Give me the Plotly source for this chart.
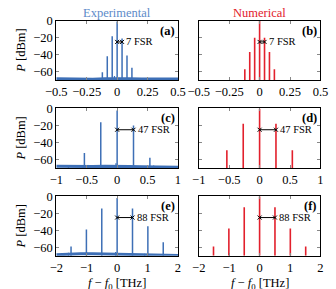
import plotly.graph_objects as go

# ---------------- data ----------------
# comb line offsets (in units of line spacing) and spacing [THz]
spacing_a = 0.0405   # 7 FSR
spacing_c = 0.269    # 47 FSR
spacing_e = 0.505    # 88 FSR

orders_a = [-3, -2, -1, 0, 1, 2, 3]
exp_a = [-60.7, -41.8, -18.2, -1.1, -21.0, -41.0, -55.5]
num_a = [-57.0, -37.0, -20.0, 0.0, -20.0, -37.0, -57.0]

orders_c = [-2, -1, 0, 1, 2]
exp_c = [-52.4, -16.3, -2.3, -20.0, -58.0]
num_c = [-49.0, -18.0, 0.0, -18.0, -49.0]

orders_e = [-3, -2, -1, 0, 1, 2, 3]
exp_e = [-59.0, -39.0, -14.4, -2.0, -14.4, -35.3, -54.0]
num_e = [-59.0, -38.0, -13.0, 0.0, -13.0, -38.0, -59.0]

# small spurious peaks in the experimental spectra
spur_x_a = [-0.022, 0.018]
spur_y_a = [-65.0, -67.0]
spur_x_c = [-0.02, 0.6, -0.8]
spur_y_c = [-64.5, -67.0, -67.5]
spur_x_e = [-0.05, -1.6, 0.9]
spur_y_e = [-65.5, -66.5, -67.5]

# experimental noise floor
floor_x_a = [-0.5, -0.4, -0.3, -0.2, -0.1, 0.0, 0.1, 0.2, 0.3, 0.4, 0.5]
floor_y_a = [-68.4, -68.7, -68.5, -68.8, -68.3, -68.0, -68.4, -68.7, -68.5, -68.9, -68.6]
floor_x_c = [-1.0, -0.8, -0.6, -0.4, -0.2, 0.0, 0.2, 0.4, 0.6, 0.8, 1.0]
floor_y_c = [-67.9, -68.2, -68.1, -68.3, -68.0, -67.8, -68.2, -68.4, -68.6, -68.9, -69.2]
floor_x_e = [-2.0, -1.6, -1.2, -0.8, -0.4, 0.0, 0.4, 0.8, 1.2, 1.6, 2.0]
floor_y_e = [-68.8, -68.0, -67.6, -67.5, -67.7, -67.9, -68.4, -68.9, -69.3, -69.5, -69.6]

xr = [[-0.5, 0.5], [-1, 1], [-2, 2]]
xticks = [[-0.5, -0.25, 0, 0.25, 0.5], [-1, -0.5, 0, 0.5, 1], [-2, -1, 0, 1, 2]]
xticktext = [["\u22120.5", "\u22120.25", "0", "0.25", "0.5"],
             ["\u22121", "\u22120.5", "0", "0.5", "1"],
             ["\u22122", "\u22121", "0", "1", "2"]]
yticks = [0, -20, -40, -60]
yticktext = ["0", "\u221220", "\u221240", "\u221260"]
fsr_labels = ["7 FSR", "47 FSR", "88 FSR"]
panel_labels = ["(a)", "(b)", "(c)", "(d)", "(e)", "(f)"]

# ---------------- style ----------------
BLUE = "#3d6fb6"
BLUE_T = "#5d8bc9"
RED = "#e2202c"
FONT = "Liberation Serif"
YMIN = -70

W, H = 336, 289
col_px = [(48, 177), (199, 328)]
row_px = [(14, 75), (104, 165), (194, 255)]

fig = go.Figure()


def stems(xs, ys, base=YMIN):
    sx, sy = [], []
    for x, y in zip(xs, ys):
        sx += [x, x, None]
        sy += [base, y, None]
    return sx, sy


rows = [
    (spacing_a, orders_a, exp_a, num_a, spur_x_a, spur_y_a, floor_x_a, floor_y_a),
    (spacing_c, orders_c, exp_c, num_c, spur_x_c, spur_y_c, floor_x_c, floor_y_c),
    (spacing_e, orders_e, exp_e, num_e, spur_x_e, spur_y_e, floor_x_e, floor_y_e),
]

layout = dict(width=W, height=H, margin=dict(l=0, r=0, t=0, b=0),
              paper_bgcolor="white", plot_bgcolor="white", showlegend=False,
              font=dict(family=FONT, size=12, color="black"))
annotations = []

for r, (sp, orders, ev, nv, spx, spy, fx, fy) in enumerate(rows):
    xs = [o * sp for o in orders]
    for c in range(2):
        idx = r * 2 + c + 1
        xa = "x" if idx == 1 else f"x{idx}"
        ya = "y" if idx == 1 else f"y{idx}"
        xkey = "xaxis" if idx == 1 else f"xaxis{idx}"
        ykey = "yaxis" if idx == 1 else f"yaxis{idx}"
        x0, x1 = col_px[c]
        y0, y1 = row_px[r]
        layout[xkey] = dict(domain=[x0 / W, x1 / W], range=xr[r], anchor=ya,
                            showline=True, linecolor="black", linewidth=1, mirror="ticks",
                            ticks="inside", ticklen=3, tickcolor="#888", showgrid=False,
                            zeroline=False, tickvals=xticks[r], ticktext=xticktext[r],
                            tickfont=dict(family=FONT, size=12.5))
        layout[ykey] = dict(domain=[1 - y1 / H, 1 - y0 / H], range=[YMIN, 0], anchor=xa,
                            showline=True, linecolor="black", linewidth=1, mirror="ticks",
                            ticks="inside", ticklen=3, tickcolor="#888", showgrid=False,
                            zeroline=False, tickvals=yticks, ticktext=yticktext,
                            showticklabels=(c == 0),
                            tickfont=dict(family=FONT, size=12.5))
        if c == 0:
            fig.add_trace(go.Scatter(x=fx, y=fy, mode="lines", xaxis=xa, yaxis=ya,
                                     line=dict(color=BLUE, width=3), hoverinfo="skip"))
            sx, sy = stems(spx, spy)
            fig.add_trace(go.Scatter(x=sx, y=sy, mode="lines", xaxis=xa, yaxis=ya,
                                     line=dict(color=BLUE, width=1.2), hoverinfo="skip"))
            sx, sy = stems(xs, ev)
            fig.add_trace(go.Scatter(x=sx, y=sy, mode="lines", xaxis=xa, yaxis=ya,
                                     line=dict(color=BLUE, width=1.5), hoverinfo="skip"))
        else:
            sx, sy = stems(xs, nv)
            fig.add_trace(go.Scatter(x=sx, y=sy, mode="lines", xaxis=xa, yaxis=ya,
                                     line=dict(color=RED, width=1.6), hoverinfo="skip"))
        # FSR arrow
        fig.add_trace(go.Scatter(x=[0, sp], y=[-25, -25], mode="lines+markers", xaxis=xa, yaxis=ya,
                                 line=dict(color="black", width=1),
                                 marker=dict(symbol="x-thin", size=4,
                                             line=dict(color="black", width=1)),
                                 hoverinfo="skip"))
        annotations.append(dict(x=sp, y=-25, xref=xa, yref=ya, text=fsr_labels[r],
                                showarrow=False, xanchor="left", yanchor="middle", xshift=2,
                                font=dict(family=FONT, size=10.5)))
        annotations.append(dict(x=1, y=1, xref=f"{xa} domain", yref=f"{ya} domain",
                                text="<b>" + panel_labels[idx - 1] + "</b>", showarrow=False,
                                xanchor="right", yanchor="top", xshift=-1, yshift=-1,
                                font=dict(family=FONT, size=12.5)))
    # y label
    annotations.append(dict(x=11 / W, y=1 - (row_px[r][0] + row_px[r][1]) / 2 / H,
                            xref="paper", yref="paper", text="<i>P</i> [dBm]", textangle=-90,
                            showarrow=False, xanchor="center", yanchor="middle",
                            font=dict(family=FONT, size=12.5)))

annotations.append(dict(x=112.5 / W, y=1 - 6 / H, xref="paper", yref="paper", text="Experimental",
                        showarrow=False, font=dict(family=FONT, size=12.5, color=BLUE_T),
                        xanchor="center", yanchor="middle"))
annotations.append(dict(x=263.5 / W, y=1 - 6 / H, xref="paper", yref="paper", text="Numerical",
                        showarrow=False, font=dict(family=FONT, size=12.5, color=RED),
                        xanchor="center", yanchor="middle"))
for c in range(2):
    annotations.append(dict(x=(col_px[c][0] + col_px[c][1]) / 2 / W, y=1 - 281 / H,
                            xref="paper", yref="paper",
                            text="<i>f</i> \u2212 <i>f</i><sub>0</sub> [THz]",
                            showarrow=False, xanchor="center", yanchor="middle", yshift=-3,
                            font=dict(family=FONT, size=12.5)))

layout["annotations"] = annotations
fig.update_layout(**layout)
fig.write_html("out.html", config={"displayModeBar": False})

# remove default page margins so the 336x289 figure fits the window exactly
with open("out.html", "r", encoding="utf-8") as fh:
    html = fh.read()
html = html.replace("<head>", "<head><style>html,body{margin:0;padding:0;overflow:hidden;}</style>", 1)
with open("out.html", "w", encoding="utf-8") as fh:
    fh.write(html)
